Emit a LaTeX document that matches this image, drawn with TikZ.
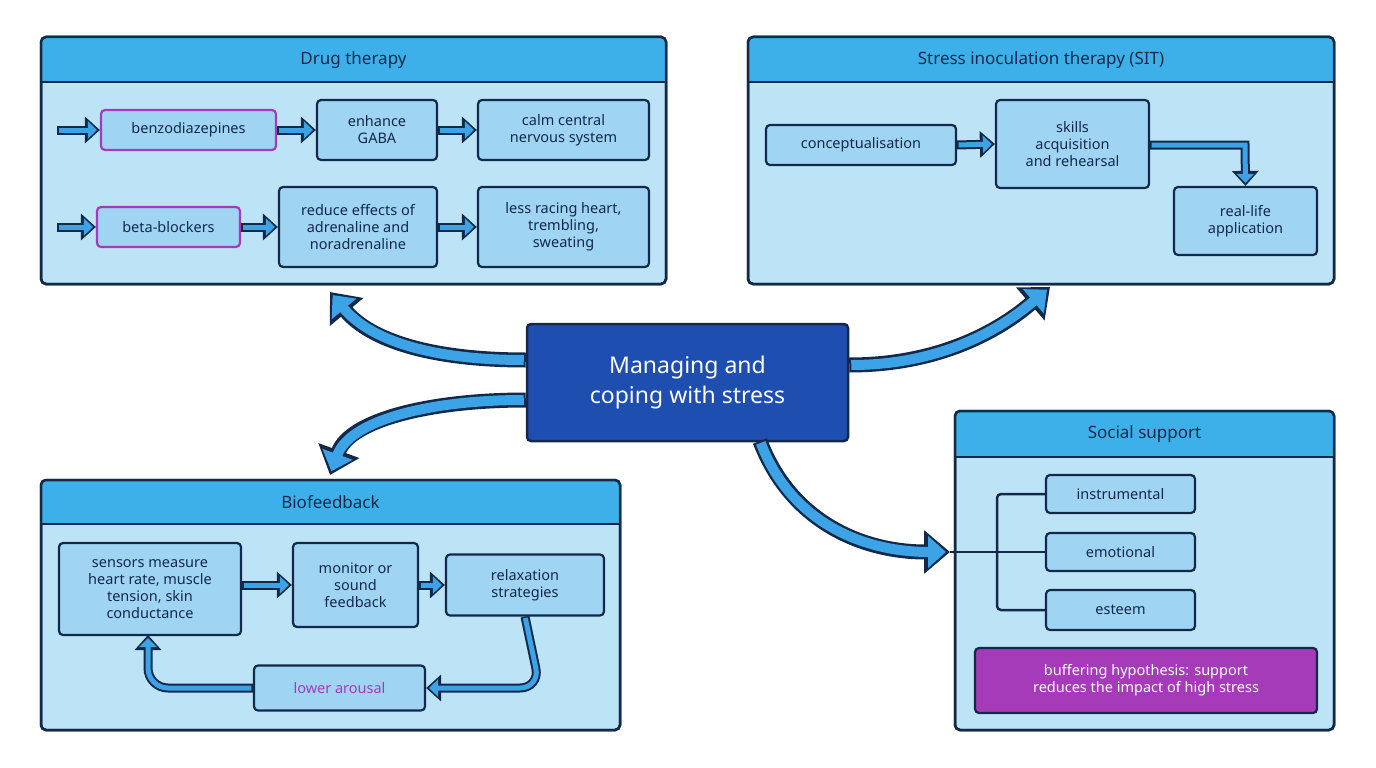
\documentclass[tikz,border=0pt]{standalone}
\usepackage{fontspec}
\setmainfont{Noto Sans}
\usetikzlibrary{arrows.meta}
\definecolor{dark}{HTML}{12294A}
\definecolor{panelc}{HTML}{BDE3F7}
\definecolor{headc}{HTML}{3DB0EA}
\definecolor{boxc}{HTML}{9FD4F2}
\definecolor{purp}{HTML}{A63BBA}
\definecolor{centc}{HTML}{1E4FB0}
\definecolor{arrc}{HTML}{3BA3E6}
\tikzset{
 panel/.style={draw=dark,line width=2.5pt,fill=panelc,rounded corners=5pt},
 head/.style={fill=headc,rounded corners=5pt},
 title/.style={font=\fontsize{17}{20}\selectfont\bfseries,text=dark},
 box/.style={draw=dark,line width=2.2pt,fill=boxc,rounded corners=4pt,align=center,font=\fontsize{14.5}{17}\selectfont,text=dark,inner sep=2pt},
 pbox/.style={box,draw=purp},
 fat/.style={draw=dark,line width=9pt,-{Triangle[length=15pt,width=26pt]},
   postaction={draw=arrc,line width=5pt,-{Triangle[length=9pt,width=17pt]},shorten >=3pt,shorten <=1.5pt}},
 big/.style={draw=dark,line width=15pt,-{Triangle[length=26pt,width=42pt]},
   postaction={draw=arrc,line width=10pt,-{Triangle[length=18pt,width=31pt]},shorten >=4pt,shorten <=2pt}},
 brk/.style={draw=dark,line width=2.5pt,rounded corners=4pt},
}
\begin{document}
\begin{tikzpicture}[x=1pt,y=-1pt]
\useasboundingbox (0,0) rectangle (1376,768);
% panels
\foreach \a/\b/\c/\d/\h in {41/37/666/284/82, 748/37/1334/284/82, 41/480/620/730/524, 955/411/1334/730/457}{
 \draw[panel] (\a,\b) rectangle (\c,\d);
 \fill[head] (\a,\h) -- (\a,\b) -- (\c,\b) -- (\c,\h) -- cycle;
 \draw[dark,line width=2.5pt] (\a,\h) -- (\c,\h);
 \draw[dark,line width=2.5pt,rounded corners=5pt] (\a,\b) rectangle (\c,\d);
}
\node[title] (t1) at (353.5,60) {Drug therapy};
\node[title] (t2) at (1041,60) {Stress inoculation therapy (SIT)};
\node[title] (t3) at (330.5,502) {Biofeedback};
\node[title] (t4) at (1144.5,434) {Social support};
% drug
\node[pbox,minimum width=175pt,minimum height=40pt] (bz) at (188.5,130) {benzodiazepines};
\node[box,minimum width=120pt,minimum height=60pt] (ga) at (377,130) {enhance\\GABA};
\node[box,minimum width=171pt,minimum height=60pt] (cn) at (563.5,130) {calm central\\nervous system};
\node[pbox,minimum width=143pt,minimum height=40pt] (bb) at (168.5,227) {beta-blockers};
\node[box,minimum width=158pt,minimum height=80pt] (re) at (358,227) {reduce effects of\\adrenaline and\\noradrenaline};
\node[box,minimum width=171pt,minimum height=80pt] (lr) at (563.5,227) {less racing heart,\\trembling,\\sweating};
\coordinate (e1) at (57,130); \coordinate (e2) at (57,227);
\draw[fat] (e1) -- (bz.west);
\draw[fat] (e2) -- (bb.west);
\draw[fat] (bz.east) -- (ga.west);
\draw[fat] (ga.east) -- (cn.west);
\draw[fat] (bb.east) -- (re.west);
\draw[fat] (re.east) -- (lr.west);
% SIT
\node[box,minimum width=190pt,minimum height=40pt] (co) at (861,145) {conceptualisation};
\node[box,minimum width=153pt,minimum height=88pt] (sk) at (1072.5,144) {skills\\acquisition\\and rehearsal};
\node[box,minimum width=143pt,minimum height=68pt] (rl) at (1245.5,221) {real-life\\application};
\draw[fat] (co.east) -- (sk.west);
\draw[fat] (sk.east |- 0,145) -- (1245,145) -- (rl.north);
% biofeedback
\node[box,minimum width=182pt,minimum height=92pt] (se) at (150,589) {sensors measure\\heart rate, muscle\\tension, skin\\conductance};
\node[box,minimum width=125pt,minimum height=84pt] (mo) at (355.5,585) {monitor or\\sound\\feedback};
\node[box,minimum width=158pt,minimum height=61pt] (rx) at (525,585) {relaxation\\strategies};
\node[box,minimum width=171pt,minimum height=45pt,text=purp,font=\fontsize{14.5}{17}\selectfont\bfseries] (la) at (339.5,688) {lower arousal};
\draw[fat] (se.east |- 0,585) -- (mo.west);
\draw[fat] (mo.east) -- (rx.west);
\draw[fat,rounded corners=20pt] (rx.south) -- (540,688) -- (la.east);
\draw[fat,rounded corners=20pt] (la.west) -- (148,688) -- (148,635);
% social
\node[box,minimum width=149pt,minimum height=38pt] (in) at (1120.5,494) {instrumental};
\node[box,minimum width=149pt,minimum height=38pt] (em) at (1120.5,552) {emotional};
\node[box,minimum width=149pt,minimum height=40pt] (es) at (1120.5,610) {esteem};
\node[draw=dark,line width=2.2pt,fill=purp,rounded corners=4pt,minimum width=342pt,minimum height=65pt,align=center,text=white,font=\fontsize{14.5}{17}\selectfont] (bh) at (1146,680.5) {\textbf{buffering hypothesis:} support\\reduces the impact of high stress};
\coordinate (sj) at (950,552);
\draw[brk] (in.west) -- (997,494) -- (997,610) -- (es.west);
\draw[brk] (sj) -- (em.west);
% center
\node[draw=dark,line width=2.5pt,fill=centc,rounded corners=4pt,minimum width=321pt,minimum height=117pt,align=center,text=white,font=\fontsize{23}{30}\selectfont\bfseries] (c) at (687.5,382.5) {Managing and\\coping with stress};
\coordinate (a1) at (330,292);
\coordinate (a2) at (330,475);
\coordinate (a3) at (1050,287);
\draw[big] (c.west |- 0,360) .. controls (430,360) and (370,340) .. (a1);
\draw[big] (c.west |- 0,400) .. controls (430,400) and (350,420) .. (a2);
\draw[big] (c.east |- 0,365) .. controls (940,365) and (1000,330) .. (a3);
\draw[big] (760,441) .. controls (790,520) and (860,552) .. (sj);
\end{tikzpicture}
\end{document}
